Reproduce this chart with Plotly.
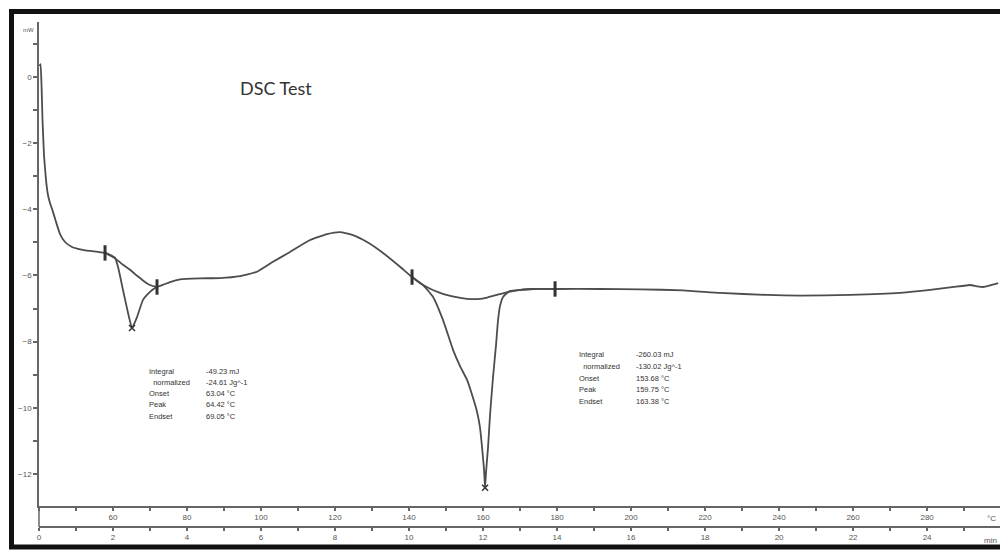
import plotly.graph_objects as go

# ---------------- data (time in min, heat flow in mW) ----------------
time_min = [0.014, 0.041, 0.068, 0.095, 0.135, 0.189, 0.243, 0.297, 0.378, 0.459,
            0.568, 0.703, 0.892, 1.108, 1.378, 1.595, 1.784, 1.919, 2.054, 2.135,
            2.270, 2.405, 2.514, 2.649, 2.811, 3.000, 3.135, 3.189, 3.405, 3.541,
            3.811, 4.351, 4.892, 5.432, 5.892, 6.324, 6.784, 7.324, 7.784, 8.135,
            8.486, 8.865, 9.297, 9.757, 10.081, 10.378, 10.649, 10.919, 11.189, 11.378,
            11.568, 11.703, 11.838, 11.919, 11.973, 12.027, 12.054, 12.081, 12.135, 12.189,
            12.270, 12.351, 12.405, 12.459, 12.541, 12.649, 12.730, 13.000, 13.351, 13.946,
            15.160, 16.243, 17.405, 18.405, 19.676, 20.568, 21.919, 23.270, 24.081, 24.622,
            24.946, 25.162, 25.351, 25.514, 25.703, 25.919]
heat_flow_mw = [0.33, 0.39, -0.24, -1.30, -2.36, -3.11, -3.57, -3.81, -4.08, -4.38,
                -4.75, -4.99, -5.14, -5.21, -5.26, -5.29, -5.32, -5.38, -5.47, -5.74,
                -6.44, -7.13, -7.59, -7.26, -6.74, -6.50, -6.38, -6.35, -6.26, -6.20,
                -6.12, -6.09, -6.08, -6.02, -5.89, -5.59, -5.29, -4.93, -4.75, -4.69,
                -4.78, -4.99, -5.32, -5.74, -6.05, -6.29, -6.65, -7.35, -8.25, -8.74,
                -9.16, -9.61, -10.13, -10.61, -11.19, -11.88, -12.42, -11.94, -11.19, -10.22,
                -9.07, -8.10, -7.35, -6.92, -6.65, -6.53, -6.47, -6.44, -6.41, -6.41,
                -6.41, -6.42, -6.45, -6.53, -6.59, -6.61, -6.59, -6.53, -6.44, -6.36,
                -6.32, -6.29, -6.33, -6.35, -6.30, -6.23]

baseline1_t = [1.784, 1.973, 2.108, 2.270, 2.459, 2.595, 2.730, 2.865, 3.000, 3.189]
baseline1_mw = [-5.32, -5.43, -5.53, -5.68, -5.83, -5.96, -6.08, -6.20, -6.29, -6.35]
baseline2_t = [10.081, 10.378, 10.838, 11.243, 11.568, 11.919, 12.108, 12.541, 12.919, 13.351, 13.946]
baseline2_mw = [-6.05, -6.29, -6.53, -6.65, -6.71, -6.71, -6.67, -6.54, -6.45, -6.41, -6.41]

limit_t = [1.784, 3.189, 10.081, 13.946]
limit_mw = [-5.32, -6.35, -6.05, -6.41]
peak_t = [2.514, 12.054]
peak_mw = [-7.59, -12.42]

start_temp_c = 40
heating_rate = 10  # K/min
time_max = 25.97
y_min, y_max = -12.97, 1.66

time_ticks = [0, 2, 4, 6, 8, 10, 12, 14, 16, 18, 20, 22, 24]
temp_ticks = [60, 80, 100, 120, 140, 160, 180, 200, 220, 240, 260, 280]
y_ticks = [0, -2, -4, -6, -8, -10, -12]

left_labels = ["Integral", "&nbsp;&nbsp;normalized", "Onset", "Peak", "Endset"]
left_values = ["-49.23 mJ", "-24.61 Jg^-1", "63.04 °C", "64.42 °C", "69.05 °C"]
right_labels = ["Integral", "&nbsp;&nbsp;normalized", "Onset", "Peak", "Endset"]
right_values = ["-260.03 mJ", "-130.02 Jg^-1", "153.68 °C", "159.75 °C", "163.38 °C"]

# ---------------- layout geometry ----------------
W, H = 1000, 554
ML, MR, MT, MB = 39, 0, 22, 27
PW, PH = W - ML - MR, H - MT - MB
plot_bottom_px = 506


def px_x(px):
    return (px - ML) / PW


def px_y(py):
    return (H - MB - py) / PH


LINE = "#4d4d4d"
AX = "#666666"
TXT = "#555555"
FONT = "Liberation Sans"

fig = go.Figure()
fig.add_trace(go.Scatter(x=time_min, y=heat_flow_mw, mode="lines",
                         line=dict(color=LINE, width=1.8, shape="spline", smoothing=0.4),
                         showlegend=False))
fig.add_trace(go.Scatter(x=baseline1_t, y=baseline1_mw, mode="lines",
                         line=dict(color=LINE, width=1.8, shape="spline"), showlegend=False))
fig.add_trace(go.Scatter(x=baseline2_t, y=baseline2_mw, mode="lines",
                         line=dict(color=LINE, width=1.8, shape="spline"), showlegend=False))
fig.add_trace(go.Scatter(x=limit_t, y=limit_mw, mode="markers",
                         marker=dict(symbol="line-ns", size=11, line=dict(color="#333", width=3)),
                         showlegend=False))
fig.add_trace(go.Scatter(x=peak_t, y=peak_mw, mode="markers",
                         marker=dict(symbol="x-thin", size=6, line=dict(color="#333", width=1.5)),
                         showlegend=False))

axis_common = dict(showline=True, linecolor=AX, linewidth=1.5, showgrid=False, zeroline=False,
                   ticks="outside", ticklen=3, tickwidth=1.5, tickcolor=AX,
                   tickfont=dict(family=FONT, size=8, color=TXT))

fig.update_layout(
    width=W, height=H,
    margin=dict(l=ML, r=MR, t=MT, b=MB),
    paper_bgcolor="white", plot_bgcolor="white",
    xaxis=dict(range=[0, time_max], anchor="free", position=0,
               tickmode="array", tickvals=time_ticks,
               minor=dict(dtick=1, tick0=0, ticks="outside", ticklen=3, tickcolor=AX, tickwidth=1.5),
               **axis_common),
    xaxis2=dict(range=[start_temp_c, start_temp_c + heating_rate * time_max],
                overlaying="x", anchor="y", side="bottom",
                tickmode="array", tickvals=temp_ticks,
                minor=dict(dtick=10, tick0=start_temp_c, ticks="outside", ticklen=3,
                           tickcolor=AX, tickwidth=1.5),
                **axis_common),
    yaxis=dict(range=[y_min, y_max], domain=[px_y(plot_bottom_px), 1], anchor="x",
               tickmode="array", tickvals=y_ticks,
               minor=dict(dtick=1, tick0=0, ticks="outside", ticklen=4, tickcolor=AX, tickwidth=1.5),
               **{**axis_common, "ticklen": 4}),
)
# dummy trace to activate xaxis2
fig.add_trace(go.Scatter(x=[start_temp_c], y=[None], xaxis="x2", yaxis="y",
                         mode="markers", showlegend=False, hoverinfo="skip"))

shapes = [
    dict(type="line", xref="paper", yref="paper", x0=0, x1=0, y0=0, y1=px_y(plot_bottom_px),
         line=dict(color=AX, width=1.5)),
    dict(type="rect", xref="paper", yref="paper",
         x0=px_x(11.5), x1=px_x(1010), y0=px_y(547), y1=px_y(11.5),
         line=dict(color="#111111", width=5)),
]
fig.update_layout(shapes=shapes)

ann = []
ann.append(dict(text="DSC Test", x=px_x(238), y=px_y(88), xref="paper", yref="paper",
                xanchor="left", yanchor="middle", showarrow=False,
                font=dict(family="Lato", size=18, color="#333333")))
ann.append(dict(text="mW", x=px_x(28), y=px_y(30), xref="paper", yref="paper",
                xanchor="center", yanchor="middle", showarrow=False,
                font=dict(family=FONT, size=6, color=TXT)))
ann.append(dict(text="°C", x=px_x(991), y=px_y(518), xref="paper", yref="paper",
                xanchor="center", yanchor="middle", showarrow=False,
                font=dict(family=FONT, size=8, color=TXT)))
ann.append(dict(text="min", x=px_x(990), y=px_y(540), xref="paper", yref="paper",
                xanchor="center", yanchor="middle", showarrow=False,
                font=dict(family=FONT, size=8, color=TXT)))


def block(labels, values, x_label, x_value, y_first, spacing):
    for i, (lab, val) in enumerate(zip(labels, values)):
        yy = px_y(y_first + i * spacing)
        ann.append(dict(text=lab, x=px_x(x_label), y=yy, xref="paper", yref="paper",
                        xanchor="left", yanchor="middle", showarrow=False,
                        font=dict(family=FONT, size=7.5, color="#333333")))
        ann.append(dict(text=val, x=px_x(x_value), y=yy, xref="paper", yref="paper",
                        xanchor="left", yanchor="middle", showarrow=False,
                        font=dict(family=FONT, size=7.5, color="#333333")))


block(left_labels, left_values, 147, 204, 371, 11.3)
block(right_labels, right_values, 577, 634, 355, 11.6)
fig.update_layout(annotations=ann)

fig.write_html("out.html", config={"displayModeBar": False},
               post_script="document.body.style.margin='0px';")
